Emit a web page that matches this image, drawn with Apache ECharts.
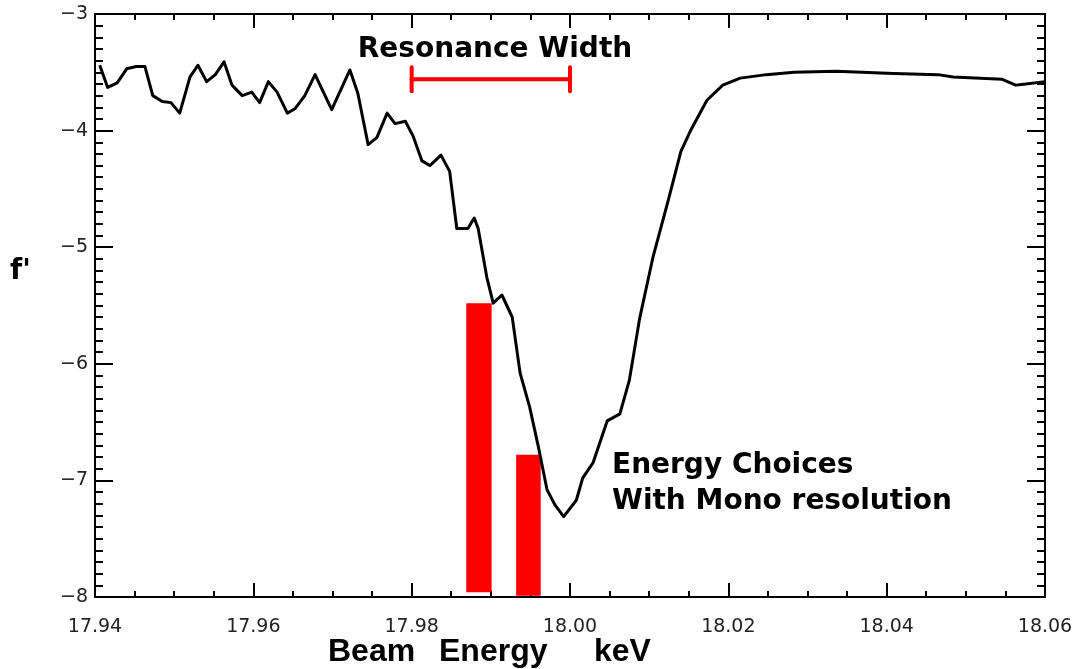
<!DOCTYPE html>
<html>
<head>
<meta charset="utf-8">
<title>f' vs Beam Energy</title>
<script src="https://cdn.jsdelivr.net/npm/echarts@6/dist/echarts.min.js"></script>
<style>
  html, body { margin: 0; padding: 0; background: #fff; }
  #chart { width: 1076px; height: 669px; }
</style>
</head>
<body>
<div id="chart"></div>
<script>
// Beam energy (keV) and the anomalous scattering factor f'
const energy = [
  17.9406, 17.9416, 17.9428, 17.9440, 17.9452, 17.9463, 17.9473, 17.9485, 17.9496, 17.9507,
  17.9520, 17.9530, 17.9541, 17.9552, 17.9563, 17.9573, 17.9586, 17.9598, 17.9608, 17.9619,
  17.9630, 17.9643, 17.9653, 17.9665, 17.9678, 17.9699, 17.9722, 17.9732, 17.9745, 17.9756,
  17.9769, 17.9779, 17.9792, 17.9802, 17.9813, 17.9823, 17.9837, 17.9848, 17.9857, 17.9871,
  17.9879, 17.9884, 17.9895, 17.9903, 17.9914, 17.9927, 17.9937, 17.9949, 17.9960, 17.9971,
  17.9981, 17.9992, 18.0008, 18.0016, 18.0029, 18.0047, 18.0063, 18.0075, 18.0088, 18.0105,
  18.0124, 18.0140, 18.0153, 18.0173, 18.0193, 18.0215, 18.0248, 18.0283, 18.0336, 18.0409,
  18.0465, 18.0484, 18.0546, 18.0563, 18.0576, 18.0600
];
const fprime = [
  -3.44, -3.63, -3.59, -3.47, -3.45, -3.45, -3.70, -3.75, -3.76, -3.85,
  -3.54, -3.44, -3.58, -3.52, -3.41, -3.61, -3.70, -3.67, -3.76, -3.58,
  -3.67, -3.85, -3.81, -3.70, -3.52, -3.82, -3.48, -3.68, -4.12, -4.06,
  -3.85, -3.94, -3.92, -4.05, -4.26, -4.30, -4.21, -4.35, -4.84, -4.84,
  -4.75, -4.84, -5.26, -5.48, -5.41, -5.60, -6.08, -6.37, -6.71, -7.08,
  -7.21, -7.31, -7.17, -6.98, -6.85, -6.49, -6.43, -6.14, -5.61, -5.08,
  -4.60, -4.18, -3.99, -3.74, -3.61, -3.55, -3.52, -3.50, -3.49, -3.51,
  -3.52, -3.54, -3.56, -3.61, -3.60, -3.58
];

// Energy choices allowed by the monochromator resolution
const choiceLeft   = [17.9869, 17.9932];
const choiceRight  = [17.9901, 17.9963];
const choiceTop    = [-5.48, -6.78];
const choiceBottom = [-7.96, -7.99];

// Resonance width marker
const widthStart = 17.98;
const widthEnd   = 18.00;
const widthLevel = -3.56;

// Axis ranges and tick steps
const xRange = [17.94, 18.06];
const xStep = 0.02;
const yRange = [-8, -3];
const yStep = 1;

const chart = echarts.init(document.getElementById('chart'), null, { renderer: 'canvas' });

const tickFont = 'DejaVu Sans';
const axisColor = '#000';

function xAxisDef(pos, showLabel) {
  return {
    type: 'value', position: pos, min: xRange[0], max: xRange[1], interval: xStep,
    axisLine: { show: true, onZero: false, lineStyle: { color: axisColor, width: 2 } },
    axisTick: { show: true, inside: true, length: 14, lineStyle: { color: axisColor, width: 2 } },
    minorTick: { show: true, splitNumber: 4, length: 6, lineStyle: { color: axisColor, width: 2 } },
    splitLine: { show: false }, minorSplitLine: { show: false },
    axisLabel: {
      show: showLabel, margin: 21, color: '#222', fontFamily: tickFont, fontSize: 19,
      formatter: v => v.toFixed(2)
    }
  };
}
function yAxisDef(pos, showLabel) {
  return {
    type: 'value', position: pos, min: yRange[0], max: yRange[1], interval: yStep,
    axisLine: { show: true, onZero: false, lineStyle: { color: axisColor, width: 2 } },
    axisTick: { show: true, inside: true, length: 18, lineStyle: { color: axisColor, width: 2 } },
    minorTick: { show: true, splitNumber: 10, length: 8, lineStyle: { color: axisColor, width: 2 } },
    splitLine: { show: false }, minorSplitLine: { show: false },
    axisLabel: {
      show: showLabel, margin: 7, color: '#222', fontFamily: tickFont, fontSize: 19,
      formatter: v => '\u2212' + Math.abs(v)
    }
  };
}

const choiceData = choiceLeft.map((l, i) => [l, choiceRight[i], choiceTop[i], choiceBottom[i]]);

const option = {
  backgroundColor: '#fff',
  animation: false,
  grid: { left: 95, right: 31, top: 14, bottom: 72, containLabel: false },
  xAxis: [xAxisDef('bottom', true), xAxisDef('top', false)],
  yAxis: [yAxisDef('left', true), yAxisDef('right', false)],
  series: [
    {
      type: 'custom',
      xAxisIndex: 0, yAxisIndex: 0,
      data: choiceData,
      renderItem: function (params, api) {
        const p1 = api.coord([api.value(0), api.value(2)]);
        const p2 = api.coord([api.value(1), api.value(3)]);
        return {
          type: 'rect',
          shape: { x: p1[0], y: p1[1], width: p2[0] - p1[0], height: p2[1] - p1[1] },
          style: { fill: '#ff0000' }
        };
      },
      z: 2
    },
    {
      type: 'line',
      xAxisIndex: 0, yAxisIndex: 0,
      data: energy.map((e, i) => [e, fprime[i]]),
      showSymbol: false,
      lineStyle: { color: '#000', width: 3, join: 'round' },
      z: 3
    },
    {
      type: 'custom',
      xAxisIndex: 0, yAxisIndex: 0,
      data: [[widthStart, widthEnd, widthLevel]],
      renderItem: function (params, api) {
        const a = api.coord([api.value(0), api.value(2)]);
        const b = api.coord([api.value(1), api.value(2)]);
        const cap = 12;
        const st = { stroke: '#ff0000', lineWidth: 4, lineCap: 'round' };
        return {
          type: 'group',
          children: [
            { type: 'line', shape: { x1: a[0], y1: a[1], x2: b[0], y2: b[1] }, style: st },
            { type: 'line', shape: { x1: a[0], y1: a[1] - cap, x2: a[0], y2: a[1] + cap }, style: st },
            { type: 'line', shape: { x1: b[0], y1: b[1] - cap, x2: b[0], y2: b[1] + cap }, style: st }
          ]
        };
      },
      z: 4
    }
  ],
  graphic: [
    { type: 'text', left: 10, top: 258, style: { text: "f'", font: 'bold 28px "DejaVu Sans"', fill: '#000' } },
    { type: 'text', x: 495, y: 50, style: { text: 'Resonance Width', font: 'bold 28px "DejaVu Sans"', fill: '#000', textAlign: 'center', textVerticalAlign: 'middle' } },
    { type: 'text', x: 612, y: 466, style: { text: 'Energy Choices', font: 'bold 28px "DejaVu Sans"', fill: '#000', textAlign: 'left', textVerticalAlign: 'middle' } },
    { type: 'text', x: 612, y: 502, style: { text: 'With Mono resolution', font: 'bold 28px "DejaVu Sans"', fill: '#000', textAlign: 'left', textVerticalAlign: 'middle' } },
    { type: 'text', x: 328, y: 652, style: { text: 'Beam', font: 'bold 32px "Liberation Sans"', fill: '#000', textAlign: 'left', textVerticalAlign: 'middle' } },
    { type: 'text', x: 439, y: 652, style: { text: 'Energy', font: 'bold 32px "Liberation Sans"', fill: '#000', textAlign: 'left', textVerticalAlign: 'middle' } },
    { type: 'text', x: 594, y: 652, style: { text: 'keV', font: 'bold 32px "Liberation Sans"', fill: '#000', textAlign: 'left', textVerticalAlign: 'middle' } }
  ]
};

chart.setOption(option);
</script>
</body>
</html>
